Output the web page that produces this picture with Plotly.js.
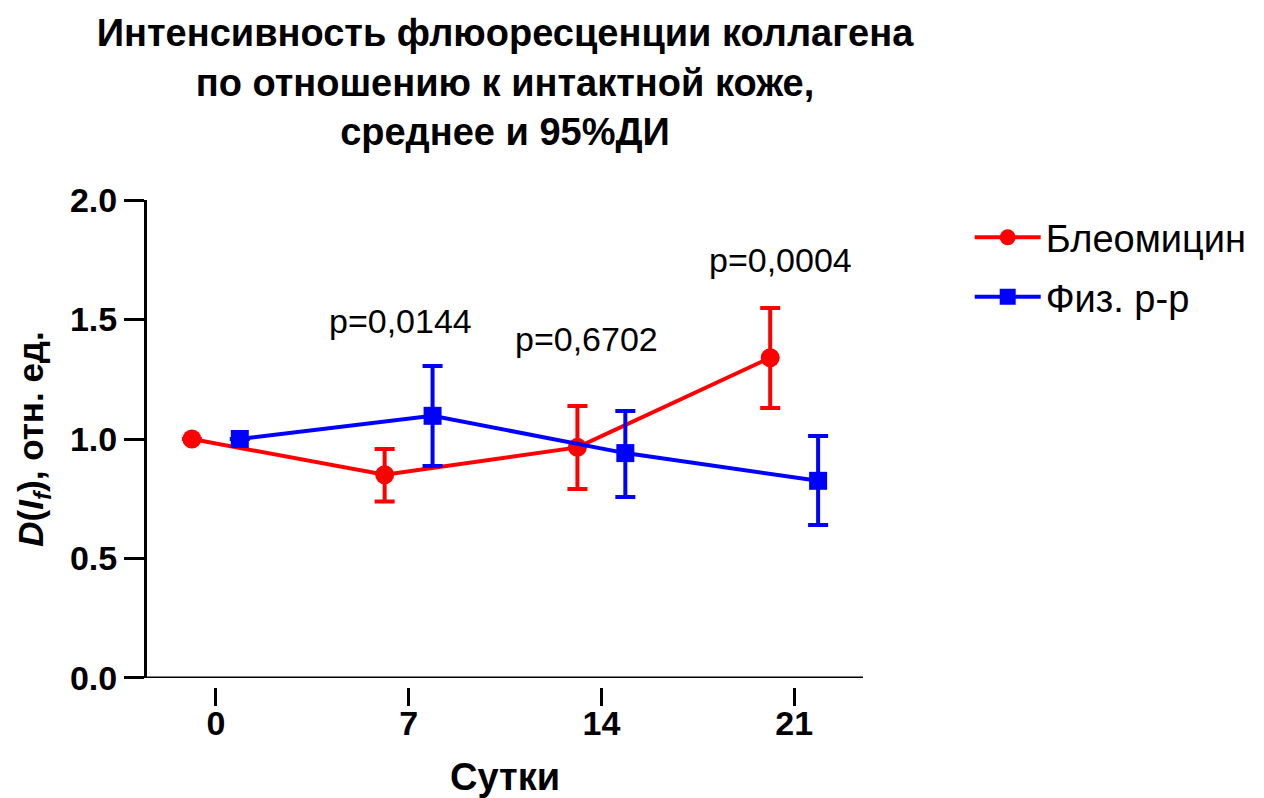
<!DOCTYPE html>
<html>
<head>
<meta charset="utf-8">
<script src="https://cdn.plot.ly/plotly-3.0.1.min.js"></script>
<style>html,body{margin:0;padding:0;background:#fff;}#chart{width:1264px;height:798px;}</style>
</head>
<body>
<div id="chart"></div>
<script>
// Data
var days = [0, 7, 14, 21];
var tickLabels = ['0', '7', '14', '21'];

var bleoName = 'Блеомицин';
var bleoMean  = [1.00, 0.85, 0.965, 1.34];
var bleoUpper = [null, 0.958, 1.138, 1.548];
var bleoLower = [null, 0.738, 0.791, 1.130];

var salineName = 'Физ. р-р';
var salineMean  = [1.00, 1.097, 0.941, 0.825];
var salineUpper = [null, 1.305, 1.117, 1.013];
var salineLower = [null, 0.887, 0.757, 0.640];

var pLabels = ['p=0,0144', 'p=0,6702', 'p=0,0004'];
var pX = [6.7, 13.46, 20.5];
var pY = [1.494, 1.418, 1.749];

// Horizontal dodge between the two groups
var dodge = 0.87;

function plus(a, b) { return a.map(function (v, i) { return v == null ? null : v - b[i]; }); }
function minus(a, b) { return a.map(function (v, i) { return v == null ? null : b[i] - v; }); }

var FONT = 'Liberation Sans, Arial, sans-serif';

var traces = [
  {
    type: 'scatter', mode: 'lines+markers', name: bleoName,
    x: days.map(function (d) { return d - dodge; }), y: bleoMean,
    line: {color: '#ff0000', width: 4},
    marker: {color: '#ff0000', symbol: 'circle', size: 19},
    error_y: {type: 'data', symmetric: false,
      array: plus(bleoUpper, bleoMean), arrayminus: minus(bleoLower, bleoMean),
      color: '#ff0000', thickness: 4, width: 10},
    legendgroup: 'a'
  },
  {
    type: 'scatter', mode: 'lines+markers', name: salineName,
    x: days.map(function (d) { return d + dodge; }), y: salineMean,
    line: {color: '#0000ff', width: 4},
    marker: {color: '#0000ff', symbol: 'square', size: 18},
    error_y: {type: 'data', symmetric: false,
      array: plus(salineUpper, salineMean), arrayminus: minus(salineLower, salineMean),
      color: '#0000ff', thickness: 4, width: 10},
    legendgroup: 'b'
  }
];

var annotations = pLabels.map(function (t, i) {
  return {x: pX[i], y: pY[i], xref: 'x', yref: 'y', text: t, showarrow: false,
    font: {family: FONT, size: 34, color: '#000'}, xanchor: 'center', yanchor: 'middle'};
});

var layout = {
  width: 1264, height: 798,
  paper_bgcolor: '#fff', plot_bgcolor: '#fff',
  margin: {l: 147, r: 399, t: 200, b: 111},
  font: {family: FONT, color: '#000'},
  title: {
    text: 'Интенсивность флюоресценции коллагена<br>по отношению к интактной коже,<br>среднее и 95%ДИ',
    font: {family: FONT, size: 38, weight: 'bold', color: '#000'},
    x: 0.5, xref: 'paper', xanchor: 'center',
    y: 0.942, yref: 'container', yanchor: 'top'
  },
  xaxis: {
    range: [-2.5, 23.5], anchor: 'free', position: 0,
    showline: false, showgrid: false, zeroline: false,
    tickmode: 'array', tickvals: days, ticktext: tickLabels,
    ticks: 'outside', ticklen: 18, tickwidth: 3, tickcolor: '#000',
    ticklabelstandoff: -12,
    tickfont: {family: FONT, size: 34, weight: 'bold', color: '#000'},
    title: {text: 'Сутки', font: {family: FONT, size: 38, weight: 'bold', color: '#000'}, standoff: 26}
  },
  yaxis: {
    range: [0, 2], domain: [0.0185, 1],
    showline: true, linewidth: 3, linecolor: '#000',
    showgrid: false, zeroline: false,
    tickmode: 'linear', tick0: 0, dtick: 0.5, tickformat: '.1f',
    ticks: 'outside', ticklen: 20, tickwidth: 3, tickcolor: '#000',
    tickfont: {family: FONT, size: 34, weight: 'bold', color: '#000'},
    title: {text: '<i>D</i>(<i>I<sub>f</sub></i>), отн. ед.', font: {family: FONT, size: 35, weight: 'bold', color: '#000'}, standoff: 16}
  },
  shapes: [
    {type: 'line', xref: 'paper', x0: 0, x1: 1, yref: 'y', y0: 0, y1: 0,
     line: {color: '#000', width: 3}, layer: 'above'}
  ],
  legend: {
    x: (972 - 147) / 718, xanchor: 'left', y: 0.9875, yanchor: 'top',
    font: {family: FONT, size: 38, color: '#000'},
    itemwidth: 66, traceorder: 'grouped', tracegroupgap: 7,
    bgcolor: 'rgba(0,0,0,0)'
  },
  annotations: annotations
};

Plotly.newPlot('chart', traces, layout, {displayModeBar: false, responsive: false});
</script>
</body>
</html>
